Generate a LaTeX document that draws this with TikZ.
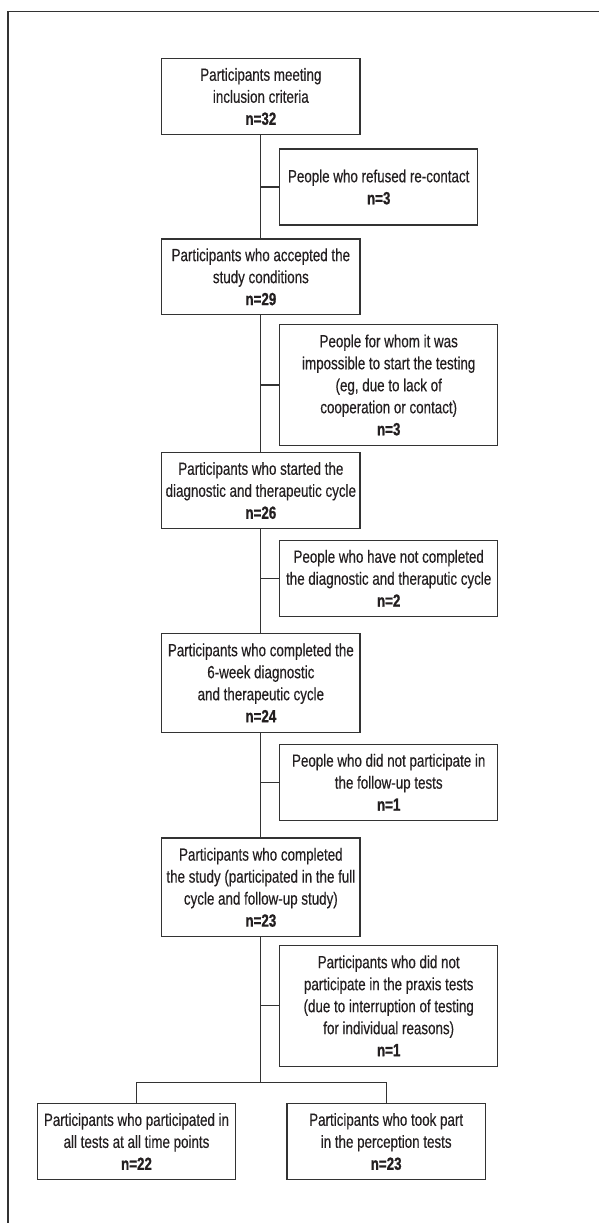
\documentclass[tikz,border=0pt]{standalone}
\usepackage{fontspec}
\setmainfont[FakeStretch=0.76,FakeBold=0.35,BoldFeatures={FakeBold=0.9}]{Liberation Sans}
\definecolor{ln}{HTML}{333333}
\definecolor{tx}{HTML}{231F20}
\begin{document}
\begin{tikzpicture}[x=0.75pt,y=-0.75pt,
  box/.style={draw=ln, line width=0.9pt, align=center, inner sep=2pt, text=tx,
    font=\fontsize{13.2}{16.5}\selectfont},
  mainbox/.style={box, minimum width=148.7pt, minimum height=56.7pt},
  sidebox/.style={box, minimum width=163.5pt, minimum height=56.7pt},
  conn/.style={draw=ln, line width=0.9pt}]
\useasboundingbox (0,0) rectangle (599,1223);
\draw[ln, line width=0.9pt] (599,11.5) -- (8,11.5) -- (8,1223);

\node[mainbox] (m1) at (260.85,96.5) {Participants meeting\\inclusion criteria\\\textbf{n=32}};
\node[sidebox, minimum width=148.5pt, minimum height=57pt] (s1) at (378.7,187) {People who refused re-contact\\\textbf{n=3}};
\node[mainbox] (m2) at (260.85,276.85) {Participants who accepted the\\study conditions\\\textbf{n=29}};
\node[sidebox, minimum height=90.6pt] (s2) at (388.7,385) {People for whom it was\\impossible to start the testing\\(eg, due to lack of\\cooperation or contact)\\\textbf{n=3}};
\node[mainbox] (m3) at (260.85,490.5) {Participants who started the\\diagnostic and therapeutic cycle\\\textbf{n=26}};
\node[sidebox] (s3) at (388.7,578.35) {People who have not completed\\the diagnostic and theraputic cycle\\\textbf{n=2}};
\node[mainbox, minimum height=73.9pt] (m4) at (260.85,682.85) {Participants who completed the\\6-week diagnostic\\and therapeutic cycle\\\textbf{n=24}};
\node[sidebox, minimum height=57pt] (s4) at (388.7,782.3) {People who did not participate in\\the follow-up tests\\\textbf{n=1}};
\node[mainbox, minimum height=74pt] (m5) at (260.85,887.35) {Participants who completed\\the study (participated in the full\\cycle and follow-up study)\\\textbf{n=23}};
\node[sidebox, minimum height=90.8pt] (s5) at (388.7,1005.8) {Participants who did not\\participate in the praxis tests\\(due to interruption of testing\\for individual reasons)\\\textbf{n=1}};
\node[mainbox] (bl) at (136.5,1141.5) {Participants who participated in\\all tests at all time points\\\textbf{n=22}};
\node[mainbox] (br) at (386.15,1141.5) {Participants who took part\\in the perception tests\\\textbf{n=23}};

\draw[conn] (m1) -- (m2);
\draw[conn] (m2) -- (m3);
\draw[conn] (m3) -- (m4);
\draw[conn] (m4) -- (m5);
\draw[conn] (m1.south |- s1.west) -- (s1.west);
\draw[conn] (m2.south |- s2.west) -- (s2.west);
\draw[conn] (m3.south |- s3.west) -- (s3.west);
\draw[conn] (m4.south |- s4.west) -- (s4.west);
\draw[conn] (m5.south |- s5.west) -- (s5.west);
\coordinate (split) at (260.85,1082.3);
\draw[conn] (m5.south) -- (split);
\draw[conn] (bl.north) |- (split) -| (br.north);
\end{tikzpicture}
\end{document}
